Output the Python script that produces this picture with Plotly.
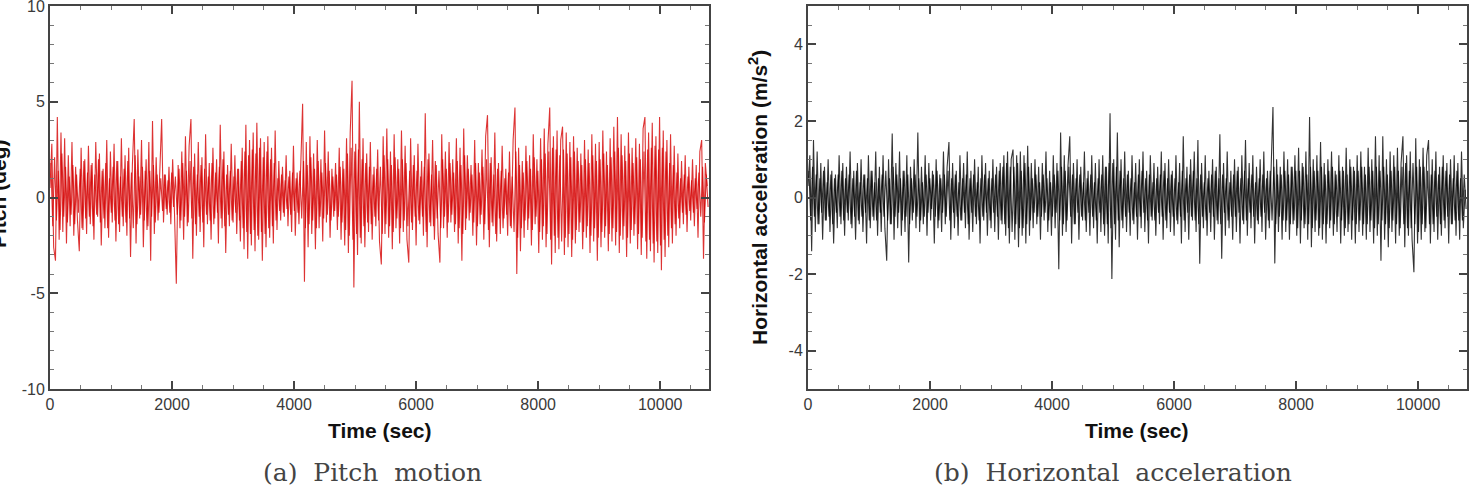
import numpy as np
import plotly.graph_objects as go

# ---------------- data ----------------
sample_step_sec = 30      # peak samples, one every 30 s
core_offset_sec = 15      # dense inner-band samples, between the peaks

pitch_peaks = [
    0.5, 2.8, -2.6, -3.3, 4.2, -2.2, 3.4, -1.8, 3.1, -2.4, 2.2, -1.5, 2.9, -2.0, 1.6, -1.2, -2.8, 2.6, -1.7, 2.0,
    -1.9, 2.7, -1.4, 1.8, -2.2, 2.9, -1.0, 2.3, -2.5, 1.5, -1.6, 3.0, -2.1, 2.4, -1.3, 2.8, -2.3, 1.9, -1.8, 3.1,
    -1.5, 2.2, -2.0, 2.6, -3.1, 1.7, 4.1, -2.4, 2.5, -1.1, 3.0, -2.6, 1.4, -1.7, 2.9, -3.3, 4.0, -1.9, 2.1, -1.2,
    1.4, 4.1, -1.3, 1.2, -0.9, 1.6, -1.4, 2.0, -0.8, -4.5, 1.7, -1.6, 2.4, -2.2, 3.2, -1.5, 2.7, 4.1, -3.2, 2.3,
    -2.0, 2.9, -1.8, 2.1, -2.6, 3.3, -1.4, 1.8, -2.2, 2.6, -1.1, 2.0, -2.4, 3.8, -1.6, 2.4, -2.9, 1.7, -1.5, 2.8,
    -1.3, 2.2, -1.9, 1.5, -2.3, 2.6, -2.7, 3.8, -3.2, 3.0, -2.5, 3.4, -2.8, 3.9, -2.2, 3.1, -3.3, 2.9, -2.6, 3.2,
    -2.1, 2.6, -2.4, 3.5, -1.7, 1.9, -1.2, 1.6, -1.0, 2.2, -1.5, 1.4, -1.8, 2.7, -2.0, 1.3, -1.4, 2.5, 4.9, -4.4,
    2.9, -2.6, 3.2, -1.9, 2.3, -2.7, 3.0, -1.6, 2.0, -2.3, 3.5, -1.3, 2.4, -2.1, 1.5, -1.0, 1.8, -1.7, 2.6, -2.2,
    1.9, -2.5, 3.1, -2.9, 3.4, 6.1, -4.7, 2.8, -3.0, 5.0, -2.4, 3.1, -2.6, 2.3, -1.8, 2.9, -2.2, 1.6, -1.5, 2.5,
    -2.3, -3.5, 3.2, -1.9, 3.6, -2.1, 2.4, -2.7, 3.3, -1.6, 2.0, -2.4, 3.5, -1.8, 2.7, -2.2, -3.4, 3.1, -1.7, 2.2,
    -2.5, 2.8, -1.4, 1.9, -2.0, 4.4, -2.6, 2.3, -1.5, 3.0, -2.2, 1.7, -1.9, -3.4, 3.3, -1.6, 2.4, -2.1, 2.9, -1.3,
    2.0, -1.8, 3.1, -2.4, 2.6, -3.3, 3.6, -1.7, 2.2, -1.2, 1.7, -2.0, 3.0, -2.5, 1.8, -1.4, 2.5, -2.2, 3.2, 4.3,
    -2.6, 2.1, -1.5, 3.4, -2.3, 1.8, -1.9, 2.7, -1.1, 1.5, -2.0, 2.4, -1.6, 3.0, 4.7, -4.0, 2.6, -2.8, 1.9, -2.1,
    2.7, -1.7, 2.2, -2.5, 3.3, -1.4, 2.0, -2.9, 3.1, -2.2, 3.6, -2.6, 2.8, 4.7, -3.5, 3.2, -2.9, 3.5, -2.7, 3.0,
    3.7, -3.0, 3.4, -2.6, 2.9, -3.1, 3.2, -2.4, 2.6, -1.8, 2.3, -2.7, 3.0, -2.1, 2.5, -2.9, 3.3, -2.3, 2.8, -3.3,
    2.9, -2.6, 3.5, -2.1, 2.4, -2.8, 3.1, -2.3, 3.7, -2.5, 4.2, -2.9, 3.3, -2.2, 2.7, -3.1, 3.4, -2.4, 2.6, -2.0,
    3.1, -2.7, 2.8, -3.0, 3.6, 4.2, -3.2, 3.4, -2.8, 3.9, -3.4, 3.2, -2.9, 4.2, -3.8, 3.5, -3.1, 3.0, -2.6, 3.3,
    -2.4, 2.7, -2.0, 2.3, -1.6, 1.9, -1.4, 2.2, -1.8, 1.6, -1.2, 2.0, -1.5, 1.7, -2.1, 2.4, 3.0, -3.2, 1.8, 0.6,
]

pitch_core = [
    1.8, -1.5, 2.1, -1.2, 1.4, -1.7, 2.3, -1.0, 1.6, -1.3, 1.1, -0.9, 1.7, -1.4, 1.2, -0.8, 1.5, -1.6, 1.9, -1.1,
    1.3, -1.0, 1.7, -1.5, 1.2, -0.9, 2.0, -1.3, 1.4, -1.1, 1.8, -1.6, 1.0, -0.8, 1.6, -1.2, 1.9, -1.4, 1.1, -1.0,
    1.5, -1.3, 1.9, -1.1, 1.3, -1.6, 2.2, -1.4, 1.1, -0.9, 1.6, -1.2, 2.0, -1.5, 1.4, -1.0, 1.7, -1.3, 1.2, -0.8,
    1.0, -0.7, 1.2, -0.6, 0.9, -0.8, 1.3, -0.5, 1.1, -0.9, 1.5, -1.2, 1.8, -1.0, 1.4, -1.3, 1.9, -1.1, 1.6, -1.4,
    1.2, -1.0, 1.7, -1.3, 1.5, -0.9, 1.1, -1.2, 1.8, -1.4, 1.3, -0.8, 1.6, -1.1, 2.0, -1.5, 1.2, -0.9, 1.4, -1.2,
    1.1, -0.8, 1.5, -1.2, 1.9, -1.6, 2.4, -1.8, 2.2, -1.9, 2.5, -1.7, 2.3, -2.0, 2.6, -1.8, 2.1, -1.9, 2.4, -1.6,
    2.0, -1.5, 1.8, -1.2, 1.0, -0.7, 1.2, -0.8, 0.9, -0.6, 1.1, -0.9, 1.3, -0.7, 1.0, -0.8, 1.4, -1.1, 1.9, -1.6,
    1.7, -1.4, 2.1, -1.2, 1.5, -1.6, 1.9, -1.0, 1.3, -1.1, 1.8, -0.9, 1.4, -1.2, 1.1, -0.7, 1.2, -1.0, 1.6, -1.3,
    1.5, -1.7, 2.3, -2.0, 2.6, -2.2, 2.4, -1.9, 2.5, -2.1, 2.0, -1.5, 1.8, -1.3, 1.6, -1.4, 1.2, -1.0, 1.5, -1.2,
    1.6, -1.9, 2.2, -1.4, 2.0, -1.5, 1.7, -1.8, 2.1, -1.1, 1.5, -1.6, 2.0, -1.2, 1.8, -1.5, 1.4, -1.3, 1.7, -1.0,
    1.4, -1.2, 1.1, -1.0, 1.6, -1.8, 2.0, -1.3, 1.2, -1.5, 1.9, -1.1, 1.4, -1.6, 2.0, -1.0, 1.5, -1.3, 1.8, -0.9,
    1.3, -1.4, 1.9, -1.6, 1.7, -1.9, 2.2, -1.1, 1.5, -0.8, 1.2, -1.3, 1.8, -1.5, 1.3, -0.9, 1.6, -1.4, 2.0, -1.7,
    1.8, -1.3, 1.2, -1.9, 1.5, -1.1, 1.4, -1.6, 1.0, -0.9, 1.3, -1.5, 1.1, -1.8, 2.4, -2.1, 1.7, -1.6, 1.3, -1.2,
    1.9, -1.1, 1.5, -1.7, 2.1, -1.0, 1.4, -1.8, 2.0, -1.5, 2.3, -1.9, 2.4, -2.2, 2.6, -2.0, 2.5, -2.1, 2.2, -2.3,
    2.5, -2.1, 2.3, -1.9, 2.1, -2.2, 2.4, -1.7, 1.9, -1.3, 1.7, -1.8, 2.0, -1.5, 1.8, -2.0, 2.2, -1.6, 1.9, -2.1,
    2.0, -1.8, 2.3, -1.5, 1.7, -1.9, 2.1, -1.6, 2.4, -1.8, 2.6, -2.0, 2.2, -1.5, 1.9, -2.1, 2.3, -1.7, 1.8, -1.4,
    2.1, -1.9, 2.0, -2.1, 2.4, -2.3, 2.5, -2.2, 2.6, -2.4, 2.7, -2.3, 2.5, -2.5, 2.6, -2.2, 2.4, -2.0, 1.8, -1.6,
    1.7, -1.4, 1.3, -1.1, 1.0, -0.8, 1.2, -0.9, 1.1, -0.7, 0.9, -0.8, 1.0, -0.6, 1.3, -1.0, 1.6, -1.3, 1.2, -0.5,
]

acc_peaks = [
    0.3, 1.1, -1.4, 1.5, -0.9, 1.2, -0.7, 0.9, -1.1, 0.8, -0.6, 1.0, -0.9, 0.7, -1.2, 0.6, -0.8, 1.1, -0.7, 0.9,
    -1.0, 0.8, -0.6, 1.2, -0.8, 0.7, -1.1, 0.9, -0.7, 1.0, -0.9, 0.6, -1.2, 1.1, -0.8, 0.7, -0.6, 1.2, -1.0, 0.8,
    -0.9, 1.1, -0.8, -1.65, 1.0, -0.7, 1.67, -1.1, 0.9, -0.8, 1.2, -1.0, 0.7, -0.9, 1.1, -1.7, 0.8, -0.6, 1.0, -0.8,
    1.7, -0.9, 0.8, -0.7, 1.1, -1.0, 0.9, -0.6, 0.7, -1.2, 1.0, -0.8, 0.6, -0.9, 1.2, -0.7, 0.8, 1.45, -1.1, 0.9,
    -0.8, 0.7, -1.0, 1.1, -0.6, 0.9, -0.8, 1.2, -1.1, 0.7, -0.9, 1.0, -0.7, 0.8, -1.2, 1.1, -0.6, 0.9, -1.0, 0.7,
    -0.8, 1.0, -0.9, 0.8, -1.1, 0.9, -0.7, 1.1, -1.0, 1.2, -1.2, 1.0, 1.25, -1.1, 1.1, -1.3, 1.2, -1.0, 1.1, -1.2,
    1.35, -1.0, 0.9, -0.8, 1.0, -0.7, 0.8, -1.1, 0.9, -0.6, 1.2, -0.9, 0.7, -1.0, 1.1, -0.8, 0.9, -1.87, 1.7, -1.0,
    1.1, -0.9, 0.8, 1.6, -1.2, 0.9, -0.7, 1.0, -1.1, 0.8, -0.6, 1.2, -0.9, 0.7, -1.0, 1.1, -0.8, 0.9, -1.2, 1.0,
    -0.9, 1.1, -1.0, 0.8, -1.2, 2.2, -2.13, 1.0, -1.1, 1.7, -1.3, 1.0, -0.8, 1.2, -0.9, 0.7, -1.0, 1.1, -0.7, 0.9,
    -1.1, 1.0, -0.8, 1.2, -0.9, 0.7, -1.2, 1.1, -0.6, 0.9, -1.0, 0.8, -0.7, 1.2, -1.1, 0.9, -0.8, 1.0, -0.9, 0.7,
    -1.0, 1.1, -0.7, 0.9, -1.2, 1.6, -0.9, 0.8, -1.1, 1.0, -0.6, 1.2, -0.9, 1.5, -1.73, 0.9, -0.8, 1.1, -1.0, 0.7,
    -0.9, 1.0, -1.1, 0.8, -0.7, 1.65, -1.6, 0.9, -1.0, 1.2, -0.8, 0.7, -1.1, 1.0, -0.9, 0.8, -1.2, 1.1, -0.7, 1.5,
    -1.0, 0.9, -0.8, 1.1, -1.2, 0.8, -0.7, 1.0, -0.9, 1.2, -1.1, 0.7, -0.8, 1.1, 2.36, -1.72, 1.0, -0.9, 0.8, -1.1,
    1.2, -0.9, 1.0, -1.1, 0.8, -0.7, 1.1, -1.0, 1.3, -1.2, 0.9, -0.8, 1.2, -1.1, 2.1, -1.3, 1.0, -0.9, 1.1, -1.0,
    1.45, -1.1, 0.9, -1.2, 1.0, -0.8, 1.2, -1.0, 0.7, -0.9, 1.1, -1.2, 0.8, -1.0, 1.3, -0.9, 1.0, -1.1, 0.8, -1.2,
    1.1, -0.9, 1.2, -1.0, 0.8, -1.1, 1.3, -0.9, 1.0, -1.2, 1.6, -1.0, 1.1, -1.65, 1.6, -1.1, 1.0, -1.3, 1.2, -0.9,
    1.1, -1.2, 1.3, -1.0, 0.9, 1.6, -1.3, 1.1, -1.0, 1.2, -1.1, -1.95, 1.55, -1.2, 1.0, -1.1, 1.3, -0.9, 1.1, 1.5,
    -1.2, 1.0, -0.9, 1.2, -1.1, 0.8, -1.0, 1.1, -0.8, 0.9, -1.2, 1.0, -0.7, 1.1, -1.0, 0.9, -1.1, 1.2, -0.8, 0.2,
]

acc_core = [
    0.7, -0.6, 0.8, -0.5, 0.6, -0.7, 0.5, -0.4, 0.7, -0.6, 0.4, -0.5, 0.6, -0.7, 0.5, -0.4, 0.6, -0.5, 0.7, -0.6,
    0.5, -0.4, 0.6, -0.7, 0.5, -0.5, 0.7, -0.6, 0.4, -0.5, 0.6, -0.4, 0.5, -0.6, 0.7, -0.5, 0.4, -0.6, 0.5, -0.4,
    0.6, -0.5, 0.7, -0.6, 0.5, -0.7, 0.8, -0.5, 0.6, -0.4, 0.5, -0.6, 0.7, -0.5, 0.6, -0.7, 0.5, -0.4, 0.6, -0.5,
    0.5, -0.6, 0.4, -0.5, 0.6, -0.4, 0.5, -0.3, 0.6, -0.5, 0.7, -0.6, 0.5, -0.4, 0.6, -0.5, 0.7, -0.6, 0.5, -0.4,
    0.6, -0.5, 0.4, -0.6, 0.5, -0.4, 0.6, -0.7, 0.5, -0.4, 0.6, -0.5, 0.4, -0.6, 0.5, -0.5, 0.6, -0.4, 0.5, -0.6,
    0.5, -0.4, 0.6, -0.5, 0.7, -0.6, 0.8, -0.7, 0.9, -0.8, 0.8, -0.9, 0.8, -0.7, 0.9, -0.8, 0.7, -0.8, 0.9, -0.7,
    0.8, -0.6, 0.5, -0.4, 0.6, -0.5, 0.4, -0.5, 0.6, -0.4, 0.5, -0.6, 0.4, -0.5, 0.6, -0.4, 0.7, -0.6, 0.8, -0.7,
    0.7, -0.6, 0.8, -0.5, 0.6, -0.7, 0.5, -0.4, 0.6, -0.5, 0.4, -0.6, 0.5, -0.4, 0.6, -0.5, 0.4, -0.6, 0.5, -0.4,
    0.6, -0.7, 0.8, -0.7, 0.9, -0.8, 0.9, -0.7, 0.8, -0.6, 0.7, -0.6, 0.5, -0.5, 0.6, -0.4, 0.5, -0.6, 0.4, -0.5,
    0.6, -0.5, 0.7, -0.4, 0.5, -0.6, 0.6, -0.5, 0.4, -0.6, 0.5, -0.4, 0.6, -0.5, 0.7, -0.6, 0.5, -0.4, 0.6, -0.5,
    0.5, -0.6, 0.4, -0.5, 0.7, -0.6, 0.5, -0.4, 0.6, -0.5, 0.7, -0.6, 0.5, -0.7, 0.6, -0.5, 0.4, -0.6, 0.5, -0.4,
    0.6, -0.5, 0.7, -0.6, 0.5, -0.7, 0.6, -0.4, 0.5, -0.6, 0.4, -0.5, 0.6, -0.5, 0.7, -0.4, 0.5, -0.6, 0.7, -0.6,
    0.5, -0.4, 0.6, -0.5, 0.4, -0.6, 0.5, -0.5, 0.6, -0.4, 0.5, -0.6, 0.7, -0.6, 0.8, -0.7, 0.6, -0.5, 0.6, -0.6,
    0.7, -0.6, 0.6, -0.7, 0.8, -0.6, 0.7, -0.8, 0.7, -0.6, 0.8, -0.7, 0.6, -0.7, 0.8, -0.8, 0.7, -0.6, 0.7, -0.8,
    0.8, -0.7, 0.6, -0.7, 0.7, -0.6, 0.8, -0.7, 0.6, -0.5, 0.7, -0.6, 0.7, -0.8, 0.6, -0.7, 0.8, -0.6, 0.7, -0.7,
    0.7, -0.6, 0.8, -0.7, 0.6, -0.7, 0.8, -0.6, 0.7, -0.8, 0.8, -0.7, 0.7, -0.6, 0.8, -0.7, 0.6, -0.8, 0.7, -0.6,
    0.8, -0.7, 0.7, -0.8, 0.8, -0.7, 0.9, -0.8, 0.7, -0.8, 0.9, -0.7, 0.8, -0.9, 0.8, -0.7, 0.8, -0.8, 0.7, -0.7,
    0.6, -0.7, 0.7, -0.5, 0.6, -0.7, 0.8, -0.6, 0.7, -0.5, 0.6, -0.7, 0.5, -0.6, 0.7, -0.6, 0.5, -0.6, 0.6, -0.3,
]

x_tick_vals = [0, 2000, 4000, 6000, 8000, 10000]
x_tick_text = ["0", "2000", "4000", "6000", "8000", "10000"]
pitch_tick_vals = [-10, -5, 0, 5, 10]
pitch_tick_text = ["-10", "-5", "0", "5", "10"]
acc_tick_vals = [-4, -2, 0, 2, 4]
acc_tick_text = ["-4", "-2", "0", "2", "4"]

t_peaks_p = np.arange(len(pitch_peaks)) * sample_step_sec
t_core_p = np.arange(len(pitch_core)) * sample_step_sec + core_offset_sec
t_peaks_a = np.arange(len(acc_peaks)) * sample_step_sec
t_core_a = np.arange(len(acc_core)) * sample_step_sec + core_offset_sec

# ---------------- figure ----------------
W, H = 1478, 488
fig = go.Figure()

red = "rgba(212,0,0,0.8)"
blk = "rgba(0,0,0,0.8)"
for tx, vals in ((t_peaks_p, pitch_peaks), (t_core_p, pitch_core)):
    fig.add_trace(go.Scatter(x=tx, y=vals, mode="lines", line=dict(color=red, width=1.1),
                             xaxis="x", yaxis="y", showlegend=False, hoverinfo="skip"))
for tx, vals in ((t_peaks_a, acc_peaks), (t_core_a, acc_core)):
    fig.add_trace(go.Scatter(x=tx, y=vals, mode="lines", line=dict(color=blk, width=1.1),
                             xaxis="x2", yaxis="y2", showlegend=False, hoverinfo="skip"))

tick_font = dict(family="Liberation Sans, Arial, sans-serif", size=16, color="#3a3a3a")
axis_common = dict(showline=True, linecolor="#444444", linewidth=2, mirror="ticks",
                   ticks="inside", ticklen=8, tickwidth=2, tickcolor="#444444",
                   showgrid=False, zeroline=False, tickfont=tick_font,
                   ticklabeloverflow="allow", automargin=False)

ydom = [1 - 389 / H, 1 - 6 / H]
minor_style = dict(ticks="inside", ticklen=4, tickcolor="#777777", tickwidth=1)
fig.update_layout(
    width=W, height=H,
    margin=dict(l=0, r=0, t=0, b=0, autoexpand=False),
    paper_bgcolor="white", plot_bgcolor="white",
    xaxis=dict(domain=[50 / W, 709 / W], range=[0, 10800], anchor="y",
               tickvals=x_tick_vals, ticktext=x_tick_text,
               minor=dict(dtick=500, tick0=0, **minor_style), **axis_common),
    yaxis=dict(domain=ydom, range=[-10, 10], anchor="x",
               tickvals=pitch_tick_vals, ticktext=pitch_tick_text,
               minor=dict(dtick=1, tick0=0, **minor_style), **axis_common),
    xaxis2=dict(domain=[808 / W, 1467 / W], range=[0, 10800], anchor="y2",
                tickvals=x_tick_vals, ticktext=x_tick_text,
                minor=dict(dtick=500, tick0=0, **minor_style), **axis_common),
    yaxis2=dict(domain=ydom, range=[-5, 5], anchor="x2",
                tickvals=acc_tick_vals, ticktext=acc_tick_text,
                minor=dict(dtick=0.5, tick0=0, **minor_style), **axis_common),
)

title_font = dict(family="Liberation Sans, Arial, sans-serif", size=21, color="#111111")
cap_font = dict(family="DejaVu Serif, serif", size=25, color="#444444")


def px_x(p):
    return p / W


def px_y(p):
    return 1 - p / H


annotations = [
    dict(text="<b>Time (sec)</b>", x=px_x(380), y=px_y(430), xref="paper", yref="paper",
         showarrow=False, font=title_font, xanchor="center", yanchor="middle"),
    dict(text="<b>Time (sec)</b>", x=px_x(1137), y=px_y(430), xref="paper", yref="paper",
         showarrow=False, font=title_font, xanchor="center", yanchor="middle"),
    dict(text="<b>Pitch (deg)</b>", x=px_x(-1), y=px_y(194), xref="paper", yref="paper",
         showarrow=False, font=title_font, xanchor="center", yanchor="middle", textangle=-90),
    dict(text="<b>Horizontal acceleration (m/s<sup>2</sup>)</b>", x=px_x(758), y=px_y(198),
         xref="paper", yref="paper", showarrow=False, font=title_font,
         xanchor="center", yanchor="middle", textangle=-90),
    dict(text="(a)\u00a0 Pitch\u00a0 motion", x=px_x(372), y=px_y(472), xref="paper", yref="paper",
         showarrow=False, font=cap_font, xanchor="center", yanchor="middle"),
    dict(text="(b)\u00a0 Horizontal\u00a0 acceleration", x=px_x(1113), y=px_y(472), xref="paper",
         yref="paper", showarrow=False, font=cap_font, xanchor="center", yanchor="middle"),
]
fig.update_layout(annotations=annotations)

fig.write_html("out.html")
